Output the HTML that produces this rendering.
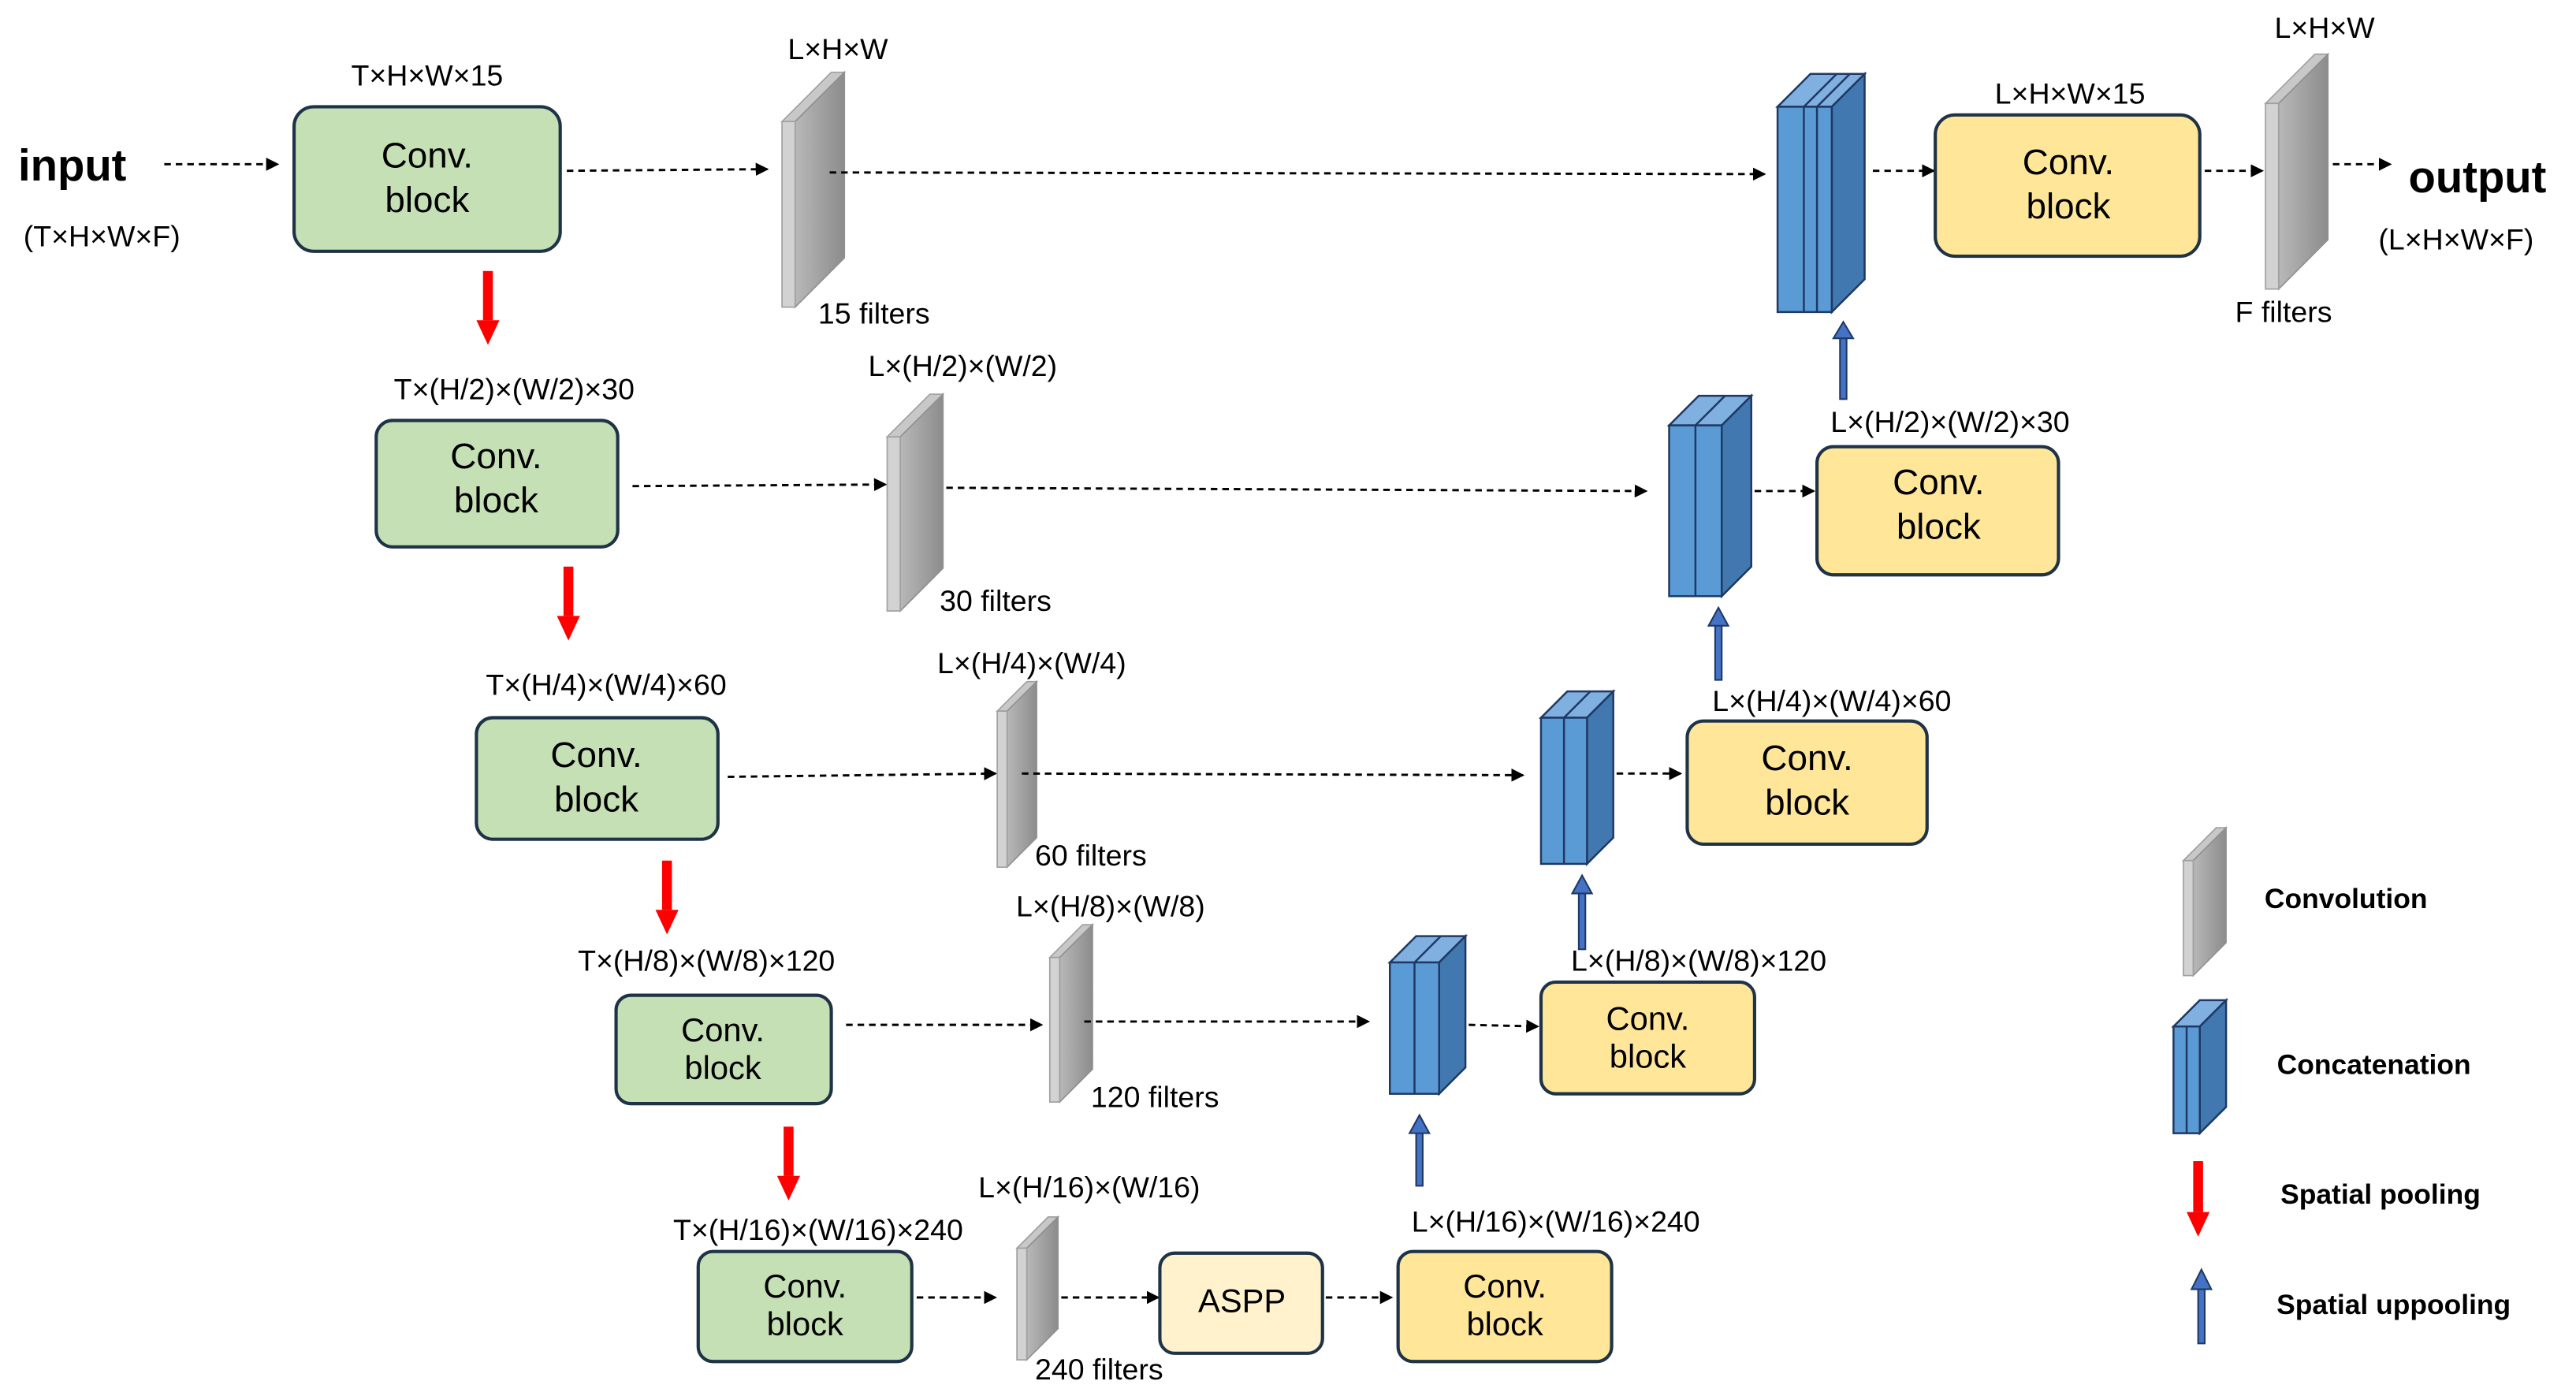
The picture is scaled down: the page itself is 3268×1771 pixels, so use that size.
<!DOCTYPE html>
<html><head><meta charset="utf-8"><style>
html,body{margin:0;padding:0;background:#fff;}
svg{display:block;}
text{font-family:"Liberation Sans",sans-serif;fill:#000;}
.lb{font-size:18px;text-anchor:middle;font-weight:500;}
.bx{font-size:22px;text-anchor:middle;font-weight:500;}
.bs{font-size:20px;text-anchor:middle;font-weight:500;}
.lg{font-size:17px;font-weight:bold;text-anchor:middle;}
.d{stroke:#000;stroke-width:1.4;stroke-dasharray:4 3;fill:none;marker-end:url(#ah);}
.g{fill:#c5e0b4;stroke:#1e3347;stroke-width:2;}
.y{fill:#ffe699;stroke:#1e3347;stroke-width:2;}
.sf{fill:#d2d2d2;stroke:#a0a0a0;stroke-width:0.8;}
.ss{fill:url(#gs);stroke:#909090;stroke-width:0.8;}
.st{fill:#c8c8c8;stroke:#a0a0a0;stroke-width:0.8;}
.cf{fill:#5b9bd5;stroke:#1f3864;stroke-width:1.2;}
.cs{fill:#4178b0;stroke:#1f3864;stroke-width:1.2;}
.ct{fill:#7fb0e0;stroke:#1f3864;stroke-width:1.2;}
.r{fill:#ff0000;}
.u{fill:#4472c4;stroke:#1f3864;stroke-width:1;}
</style></head><body>
<svg width="3268" height="1771" viewBox="0 0 1568 850" preserveAspectRatio="none" xmlns="http://www.w3.org/2000/svg">
<defs>
<marker id="ah" markerWidth="8" markerHeight="8" refX="7" refY="4" orient="auto" markerUnits="userSpaceOnUse"><path d="M0,0 L8,4 L0,8 z" fill="#000"/></marker>
<linearGradient id="gs" x1="0" y1="0" x2="1" y2="0"><stop offset="0" stop-color="#b8b8b8"/><stop offset="1" stop-color="#8c8c8c"/></linearGradient>
</defs>

<!-- Row 1 -->
<text x="44" y="110" style="font-size:27px;font-weight:bold" text-anchor="middle">input</text>
<text x="62" y="150" class="lb">(T×H×W×F)</text>
<line x1="100" y1="100" x2="169" y2="100" class="d"/>
<rect x="179" y="65" width="162" height="88" rx="12" class="g"/>
<text x="260" y="102" class="bx">Conv.</text><text x="260" y="129" class="bx">block</text>
<text x="260" y="52" class="lb">T×H×W×15</text>
<line x1="345" y1="104" x2="467" y2="103" class="d"/>
<polygon class="st" points="476,74 506,44 514,44 484,74"/>
<polygon class="ss" points="484,74 514,44 514,157 484,187"/>
<rect class="sf" x="476" y="74" width="8" height="113"/>
<text x="510" y="36" class="lb">L×H×W</text>
<text x="532" y="197" class="lb">15 filters</text>
<line x1="505" y1="105" x2="1074" y2="106" class="d"/>
<polygon class="ct" points="1082,65 1102,45 1135,45 1115,65"/>
<polygon class="cs" points="1115,65 1135,45 1135,170 1115,190"/>
<rect class="cf" x="1082" y="65" width="33" height="125"/>
<line x1="1098" y1="65" x2="1098" y2="190" stroke="#1f3864" stroke-width="1.2"/>
<line x1="1106" y1="65" x2="1106" y2="190" stroke="#1f3864" stroke-width="1.2"/>
<line x1="1098" y1="65" x2="1118" y2="45" stroke="#1f3864" stroke-width="1.2"/>
<line x1="1106" y1="65" x2="1126" y2="45" stroke="#1f3864" stroke-width="1.2"/>
<line x1="1140" y1="104" x2="1177" y2="104" class="d"/>
<rect x="1178" y="70" width="161" height="86" rx="12" class="y"/>
<text x="1259" y="106" class="bx">Conv.</text><text x="1259" y="133" class="bx">block</text>
<text x="1260" y="63" class="lb">L×H×W×15</text>
<line x1="1342" y1="104" x2="1377" y2="104" class="d"/>
<polygon class="st" points="1379,63 1409,33 1417,33 1387,63"/>
<polygon class="ss" points="1387,63 1417,33 1417,146 1387,176"/>
<rect class="sf" x="1379" y="63" width="8" height="113"/>
<text x="1415" y="23" class="lb">L×H×W</text>
<text x="1390" y="196" class="lb">F filters</text>
<line x1="1420" y1="100" x2="1455" y2="100" class="d"/>
<text x="1508" y="117" style="font-size:27px;font-weight:bold" text-anchor="middle">output</text>
<text x="1495" y="152" class="lb">(L×H×W×F)</text>
<rect class="r" x="294" y="165" width="6" height="30"/><polygon class="r" points="290,195 304,195 297,210"/>
<rect class="u" x="1120" y="205" width="4" height="38"/><polygon class="u" points="1116,206 1128,206 1122,196"/>

<!-- Row 2 -->
<text x="313" y="243" class="lb">T×(H/2)×(W/2)×30</text>
<rect x="229" y="256" width="147" height="77" rx="10" class="g"/>
<text x="302" y="285" class="bx">Conv.</text><text x="302" y="312" class="bx">block</text>
<line x1="385" y1="296" x2="539" y2="295" class="d"/>
<polygon class="st" points="540,266 566,240 574,240 548,266"/>
<polygon class="ss" points="548,266 574,240 574,346 548,372"/>
<rect class="sf" x="540" y="266" width="8" height="106"/>
<text x="586" y="229" class="lb">L×(H/2)×(W/2)</text>
<text x="606" y="372" class="lb">30 filters</text>
<line x1="576" y1="297" x2="1002" y2="299" class="d"/>
<polygon class="ct" points="1016,259 1034,241 1066,241 1048,259"/>
<polygon class="cs" points="1048,259 1066,241 1066,345 1048,363"/>
<rect class="cf" x="1016" y="259" width="32" height="104"/>
<line x1="1032" y1="259" x2="1032" y2="363" stroke="#1f3864" stroke-width="1.2"/>
<line x1="1032" y1="259" x2="1050" y2="241" stroke="#1f3864" stroke-width="1.2"/>
<line x1="1068" y1="299" x2="1104" y2="299" class="d"/>
<rect x="1106" y="272" width="147" height="78" rx="10" class="y"/>
<text x="1180" y="301" class="bx">Conv.</text><text x="1180" y="328" class="bx">block</text>
<text x="1187" y="263" class="lb">L×(H/2)×(W/2)×30</text>
<rect class="r" x="343" y="345" width="6" height="30"/><polygon class="r" points="339,375 353,375 346,390"/>
<rect class="u" x="1044" y="380" width="4" height="34"/><polygon class="u" points="1040,381 1052,381 1046,370"/>

<!-- Row 3 -->
<text x="369" y="423" class="lb">T×(H/4)×(W/4)×60</text>
<rect x="290" y="437" width="147" height="74" rx="10" class="g"/>
<text x="363" y="467" class="bx">Conv.</text><text x="363" y="494" class="bx">block</text>
<line x1="443" y1="473" x2="606" y2="471" class="d"/>
<polygon class="st" points="607,433 625,415 631,415 613,433"/>
<polygon class="ss" points="613,433 631,415 631,510 613,528"/>
<rect class="sf" x="607" y="433" width="6" height="95"/>
<text x="628" y="410" class="lb">L×(H/4)×(W/4)</text>
<text x="664" y="527" class="lb">60 filters</text>
<line x1="622" y1="471" x2="927" y2="472" class="d"/>
<polygon class="ct" points="938,437 954,421 982,421 966,437"/>
<polygon class="cs" points="966,437 982,421 982,510 966,526"/>
<rect class="cf" x="938" y="437" width="28" height="89"/>
<line x1="952" y1="437" x2="952" y2="526" stroke="#1f3864" stroke-width="1.2"/>
<line x1="952" y1="437" x2="968" y2="421" stroke="#1f3864" stroke-width="1.2"/>
<line x1="984" y1="471" x2="1023" y2="471" class="d"/>
<rect x="1027" y="439" width="146" height="75" rx="10" class="y"/>
<text x="1100" y="469" class="bx">Conv.</text><text x="1100" y="496" class="bx">block</text>
<text x="1115" y="433" class="lb">L×(H/4)×(W/4)×60</text>
<rect class="r" x="403" y="524" width="6" height="30"/><polygon class="r" points="399,554 413,554 406,569"/>
<rect class="u" x="961" y="543" width="4" height="35"/><polygon class="u" points="957,544 969,544 963,533"/>

<!-- Row 4 -->
<text x="430" y="591" class="lb">T×(H/8)×(W/8)×120</text>
<rect x="375" y="606" width="131" height="66" rx="9" class="g"/>
<text x="440" y="634" class="bs">Conv.</text><text x="440" y="657" class="bs">block</text>
<line x1="515" y1="624" x2="634" y2="624" class="d"/>
<polygon class="st" points="639,583 659,563 665,563 645,583"/>
<polygon class="ss" points="645,583 665,563 665,651 645,671"/>
<rect class="sf" x="639" y="583" width="6" height="88"/>
<text x="676" y="558" class="lb">L×(H/8)×(W/8)</text>
<text x="703" y="674" class="lb">120 filters</text>
<line x1="660" y1="622" x2="833" y2="622" class="d"/>
<polygon class="ct" points="846,586 862,570 892,570 876,586"/>
<polygon class="cs" points="876,586 892,570 892,650 876,666"/>
<rect class="cf" x="846" y="586" width="30" height="80"/>
<line x1="861" y1="586" x2="861" y2="666" stroke="#1f3864" stroke-width="1.2"/>
<line x1="861" y1="586" x2="877" y2="570" stroke="#1f3864" stroke-width="1.2"/>
<line x1="894" y1="624" x2="936" y2="625" class="d"/>
<rect x="938" y="598" width="130" height="68" rx="9" class="y"/>
<text x="1003" y="627" class="bs">Conv.</text><text x="1003" y="650" class="bs">block</text>
<text x="1034" y="591" class="lb">L×(H/8)×(W/8)×120</text>
<rect class="r" x="477" y="686" width="6" height="30"/><polygon class="r" points="473,716 487,716 480,731"/>
<rect class="u" x="862" y="689" width="4" height="33"/><polygon class="u" points="858,690 870,690 864,679"/>

<!-- Row 5 -->
<text x="498" y="755" class="lb">T×(H/16)×(W/16)×240</text>
<rect x="425" y="762" width="130" height="67" rx="9" class="g"/>
<text x="490" y="790" class="bs">Conv.</text><text x="490" y="813" class="bs">block</text>
<line x1="558" y1="790" x2="606" y2="790" class="d"/>
<polygon class="st" points="619,760 638,741 644,741 625,760"/>
<polygon class="ss" points="625,760 644,741 644,809 625,828"/>
<rect class="sf" x="619" y="760" width="6" height="68"/>
<text x="663" y="729" class="lb">L×(H/16)×(W/16)</text>
<text x="669" y="840" class="lb">240 filters</text>
<line x1="646" y1="790" x2="705" y2="790" class="d"/>
<rect x="706" y="763" width="99" height="61" rx="9" fill="#fff2cc" stroke="#1e3347" stroke-width="2"/>
<text x="756" y="799" class="bs">ASPP</text>
<line x1="807" y1="790" x2="847" y2="790" class="d"/>
<rect x="851" y="762" width="130" height="67" rx="9" class="y"/>
<text x="916" y="790" class="bs">Conv.</text><text x="916" y="813" class="bs">block</text>
<text x="947" y="750" class="lb">L×(H/16)×(W/16)×240</text>

<!-- Legend -->
<polygon class="st" points="1329,524 1349,504 1355,504 1335,524"/>
<polygon class="ss" points="1335,524 1355,504 1355,574 1335,594"/>
<rect class="sf" x="1329" y="524" width="6" height="70"/>
<text x="1428" y="553" class="lg">Convolution</text>
<polygon class="ct" points="1323,625 1339,609 1355,609 1339,625"/>
<polygon class="cs" points="1339,625 1355,609 1355,674 1339,690"/>
<rect class="cf" x="1323" y="625" width="16" height="65"/>
<line x1="1331" y1="625" x2="1331" y2="690" stroke="#1f3864" stroke-width="1.2"/>
<text x="1445" y="654" class="lg">Concatenation</text>
<rect class="r" x="1335" y="707" width="6" height="31"/><polygon class="r" points="1331,738 1345,738 1338,753"/>
<text x="1449" y="733" class="lg">Spatial pooling</text>
<rect class="u" x="1338" y="784" width="4" height="34"/><polygon class="u" points="1334,785 1346,785 1340,773"/>
<text x="1457" y="800" class="lg">Spatial uppooling</text>
</svg>
</body></html>
